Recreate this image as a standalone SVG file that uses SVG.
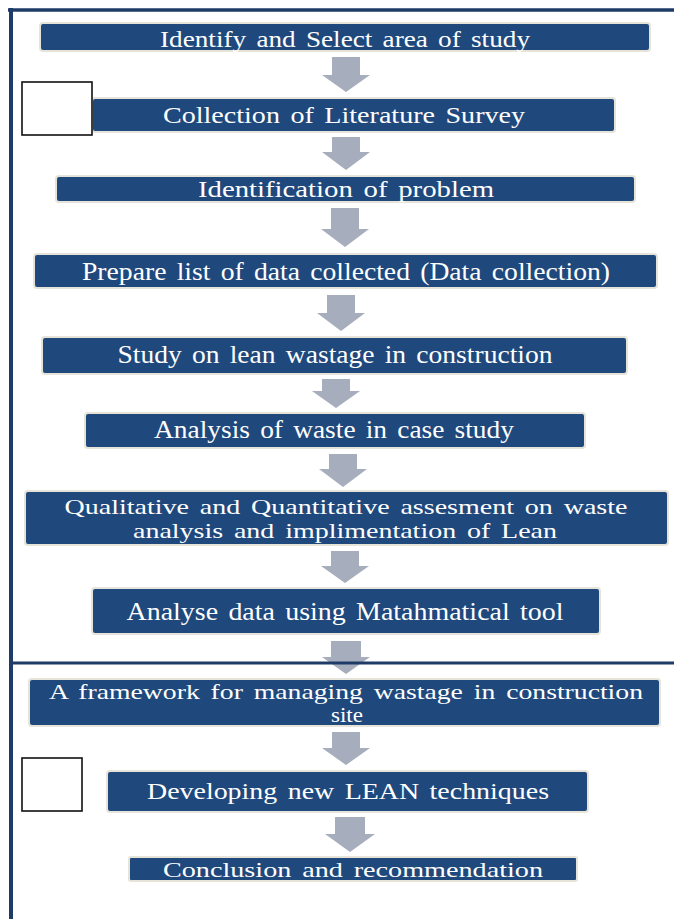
<svg xmlns="http://www.w3.org/2000/svg" width="674" height="919" viewBox="0 0 674 919">
<style>
.box{fill:#1f497d;stroke:#e6e4d8;stroke-width:2}
.t{font-family:'Liberation Serif','Times New Roman',serif;fill:#ffffff;text-anchor:middle;word-spacing:3px}
.arr{fill:#a6adbc}
.frame{stroke:#1f3c68;fill:none}
.sq{fill:#ffffff;stroke:#111111;stroke-width:1.6}
</style>
<rect width="674" height="919" fill="#ffffff"/>
<g id="connectors">
<path class="arr" d="M332,57H360V75H370L346,92L322,75H332Z"/>
<path class="arr" d="M332,137H360V152H370L346,170L322,152H332Z"/>
<path class="arr" d="M331,208H359V229H369L345,247L321,229H331Z"/>
<path class="arr" d="M327,295H355V313H365L341,331L317,313H327Z"/>
<path class="arr" d="M322,379H350V391H360L336,408L312,391H322Z"/>
<path class="arr" d="M329,454H357V469H367L343,487L319,469H329Z"/>
<path class="arr" d="M331,551H359V566H369L345,583L321,566H331Z"/>
<path class="arr" d="M331,641H361V657H370L346,674L322,657H331Z"/>
<path class="arr" d="M332,732H360V748H370L346,765L322,748H332Z"/>
<path class="arr" d="M335,817H365V834H375L350,852L325,834H335Z"/>
</g>
<g id="n1"><rect class="box" x="40" y="23" width="610" height="28" rx="3"/><text class="t" x="345" y="47" font-size="24" textLength="370" lengthAdjust="spacingAndGlyphs">Identify and Select area of study</text></g>
<g id="n2"><rect class="box" x="92" y="98" width="523" height="34" rx="3"/><text class="t" x="344" y="123" font-size="24" textLength="362" lengthAdjust="spacingAndGlyphs">Collection of Literature Survey</text></g>
<g id="n3"><rect class="box" x="56" y="176" width="579" height="26" rx="3"/><text class="t" x="346" y="197" font-size="24" textLength="296" lengthAdjust="spacingAndGlyphs">Identification of  problem</text></g>
<g id="n4"><rect class="box" x="34" y="254" width="623" height="34" rx="3"/><text class="t" x="346" y="280" font-size="25" textLength="528" lengthAdjust="spacingAndGlyphs">Prepare list of data collected (Data collection)</text></g>
<g id="n5"><rect class="box" x="42" y="337" width="585" height="37" rx="3"/><text class="t" x="335" y="363" font-size="25" textLength="435" lengthAdjust="spacingAndGlyphs">Study on lean wastage in construction</text></g>
<g id="n6"><rect class="box" x="85" y="413" width="500" height="35" rx="3"/><text class="t" x="334" y="438" font-size="25" textLength="360" lengthAdjust="spacingAndGlyphs">Analysis of waste in case study</text></g>
<g id="n7"><rect class="box" x="25" y="491" width="643" height="54" rx="3"/><text class="t" x="346" y="514" font-size="22" textLength="563" lengthAdjust="spacingAndGlyphs">Qualitative and Quantitative assesment on waste</text><text class="t" x="345" y="538" font-size="22" textLength="424" lengthAdjust="spacingAndGlyphs">analysis and implimentation of Lean</text></g>
<g id="n8"><rect class="box" x="92" y="588" width="508" height="46" rx="3"/><text class="t" x="345" y="620" font-size="25" textLength="437" lengthAdjust="spacingAndGlyphs">Analyse data using Matahmatical tool</text></g>
<g id="n9"><rect class="box" x="29" y="679" width="631" height="47" rx="3"/><text class="t" x="346" y="699" font-size="21" textLength="594" lengthAdjust="spacingAndGlyphs">A framework  for managing wastage in construction</text><text class="t" x="347" y="722" font-size="21" textLength="32" lengthAdjust="spacingAndGlyphs">site</text></g>
<g id="n10"><rect class="box" x="107" y="771" width="481" height="41" rx="3"/><text class="t" x="348" y="799" font-size="24" textLength="402" lengthAdjust="spacingAndGlyphs">Developing new LEAN techniques</text></g>
<g id="n11"><rect class="box" x="129" y="857" width="448" height="24" rx="2"/><text class="t" x="353" y="877" font-size="22" textLength="380" lengthAdjust="spacingAndGlyphs">Conclusion and recommendation</text></g>
<g id="frame">
<line class="frame" x1="8" y1="10" x2="674" y2="10" stroke-width="3.5"/>
<line class="frame" x1="11" y1="8" x2="11" y2="919" stroke-width="4"/>
<line class="frame" x1="9" y1="663" x2="674" y2="663" stroke-width="3"/>
</g>
<g id="sq1"><rect class="sq" x="22" y="82" width="70" height="53"/></g>
<g id="sq2"><rect class="sq" x="22" y="758" width="60" height="53"/></g>
</svg>
